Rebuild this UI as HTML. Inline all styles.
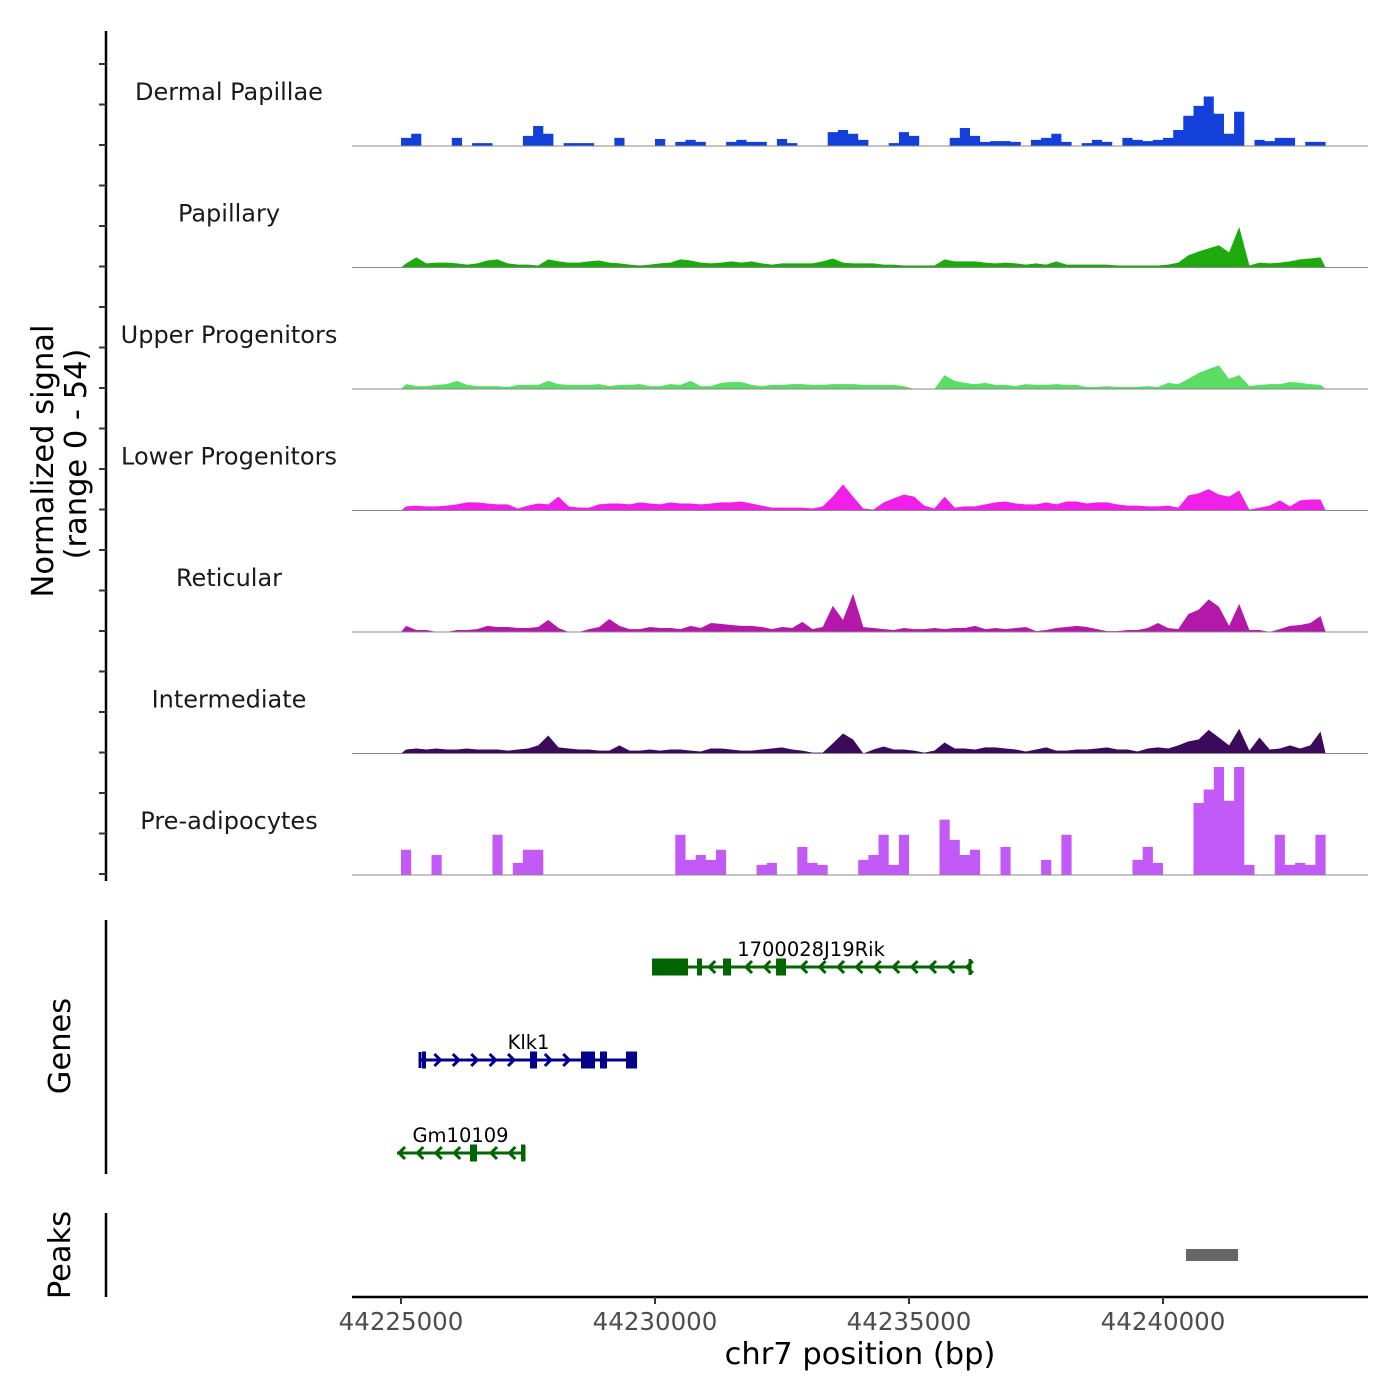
<!DOCTYPE html>
<html><head><meta charset="utf-8"><style>
html,body{margin:0;padding:0;background:#fff;}
svg{display:block;font-family:"DejaVu Sans","Liberation Sans",sans-serif;}
</style></head><body>
<svg id="chart" width="1400" height="1400" viewBox="0 0 1400 1400" xmlns="http://www.w3.org/2000/svg">
<rect width="1400" height="1400" fill="#fff"/>
<g id="tracks"></g>
<g id="genes"></g>
<g id="peaks"></g>
<g id="axes"></g>
<text transform="translate(53,461) rotate(-90)" text-anchor="middle" font-size="30.5" fill="#000">Normalized signal</text>
<text transform="translate(86,454) rotate(-90)" text-anchor="middle" font-size="30.5" fill="#000">(range 0 - 54)</text>
<text transform="translate(70,1046) rotate(-90)" text-anchor="middle" font-size="30.5" fill="#000">Genes</text>
<text transform="translate(70,1255) rotate(-90)" text-anchor="middle" font-size="30.5" fill="#000">Peaks</text>
<text x="860" y="1364" text-anchor="middle" font-size="30.5" fill="#000">chr7 position (bp)</text>
</svg>
<script>
const trackNames = ["Dermal Papillae","Papillary","Upper Progenitors","Lower Progenitors","Reticular","Intermediate","Pre-adipocytes"];
const trackColors = ["#1240d8","#1caa0c","#5bdc64","#f020e8","#b418a8","#3c0a5a","#c25af8"];
const trackStepStyle = [true,false,false,false,false,false,true];
const binStart = 44225000;
const binSize = 200;
const signalDermal = [3.6,5.4,0,0,0,3.6,0,1.3,1.3,0, 0,0,4.5,8.9,5.4,0,1.3,1.3,1.3,0, 0,3.6,0,0,0,3.1,0,1.8,2.7,1.8, 0,0,1.8,2.7,1.8,1.8,0,3.1,1.3,0, 0,0,6.2,7.1,5.4,2.7,0,0,1.3,6.2, 4.5,0,0,0,3.6,8,4.5,1.8,2.2,2.2, 1.8,0,2.7,3.6,5.4,1.8,0,1.3,2.7,1.8, 0,3.6,2.7,2.2,2.7,3.6,7.1,13.4,17.8,22, 14.3,5.4,15.2,0,2.7,2.2,3.6,3.6,0,1.8, 1.8];
const signalPapillary = [1.8,4.5,1.8,2.2,2.2,1.8,1.3,1.8,3.1,3.6, 1.8,1.3,1.3,0.9,3.6,2.7,2.2,2.2,2.7,3.1, 2.2,1.8,1.3,0.9,1.3,1.8,2.2,3.6,3.1,2.2, 1.8,2.2,2.7,2.2,2.7,1.8,1.3,1.8,1.8,1.8, 1.8,2.7,4,2.2,1.8,1.8,1.8,1.3,1.3,0.9, 0.9,0.9,0.9,3.6,2.7,2.7,2.7,2.2,1.8,2.2, 1.8,1.3,1.8,1.3,2.7,1.3,1.3,1.3,1.3,1.3, 0.9,0.9,0.9,0.9,0.9,1.3,2.2,5.4,7.1,8.5, 9.9,6.7,18,0.9,2.2,1.8,2.2,2.7,3.6,4, 4.5];
const signalUpper = [2.2,1.3,1.3,1.8,2.2,3.6,1.8,1.3,1.3,1.3, 0.9,1.8,1.8,1.8,3.6,2.2,1.8,1.8,1.8,2.2, 1.3,1.8,1.8,2.2,1.3,1.3,2.2,1.8,3.6,1.3, 1.3,2.7,3.1,3.1,1.8,1.3,1.8,1.8,2.2,2.2, 1.8,1.8,2.2,2.2,2.2,1.8,1.8,1.8,1.8,1.3, 0,0,0,6.2,3.6,2.7,2.2,2.7,1.8,1.8, 1.3,2.2,1.8,1.8,2.2,1.8,1.8,0.9,0.9,1.3, 0.9,0.9,0.9,1.3,0.9,2.7,2.2,4.5,7.1,8.9, 10.5,4.5,6.2,1.3,1.8,2.2,2.2,3.1,2.7,2.2, 1.8];
const signalLower = [1.8,2.2,1.8,1.8,2.2,2.7,3.6,3.6,3.1,2.7, 2.7,0.9,2.2,3.1,2.7,6.2,1.8,1.3,1.3,2.7, 3.1,3.1,2.7,3.6,3.1,2.7,3.6,3.1,3.1,2.7, 3.1,3.6,3.6,4,3.1,2.2,1.3,1.3,1.3,1.3, 0.9,1.8,6.2,11.6,6.2,0.9,0.4,3.6,5.4,7.1, 6.2,2.2,0.9,6.2,1.3,1.8,1.8,2.7,3.6,4, 3.1,2.7,2.7,3.6,2.7,4,4,3.1,3.6,3.6, 2.7,2.2,2.2,1.8,1.8,2.2,1.3,6.7,7.6,9.5, 7.1,6.2,8.9,0.4,1.3,2.2,4.5,1.8,4.5,4.9, 4.9];
const signalReticular = [2.7,0.9,0.9,0,0,0.9,0.9,1.3,2.7,2.2, 2.2,1.8,1.8,2.2,5.4,1.8,0,0,1.3,2.2, 5.8,2.7,1.3,1.3,2.2,1.8,1.8,1.3,2.7,1.8, 4,3.6,3.1,2.7,2.7,2.2,1.3,2.2,1.8,4.5, 1.3,2.2,11.6,5.4,17,2.2,1.8,1.3,0.9,1.8, 1.3,1.3,1.8,1.3,1.8,1.8,2.7,1.3,1.8,1.3, 1.8,2.2,0.4,0.9,1.8,2.2,2.7,2.2,1.3,0.4, 0.4,0.9,0.9,1.8,4,1.8,1.3,8,9.9,14.5, 11.2,2.7,12.5,0.9,0.9,0,1.3,2.7,3.1,4, 7.1];
const signalIntermediate = [1.8,2.2,1.8,2.2,1.8,1.8,2.2,1.8,1.8,1.8, 1.3,1.8,2.2,3.6,8,2.7,2.2,1.8,1.8,1.3, 1.3,3.6,1.3,1.3,1.8,1.3,1.8,1.8,1.3,0.9, 2.2,2.2,1.8,1.3,1.3,1.8,2.2,2.7,1.8,1.3, 0.4,0.4,4.5,8.9,6.2,0,1.8,3.1,1.8,1.8, 1.3,0.4,1.3,4.9,2.2,2.2,1.8,2.7,2.7,2.2, 1.8,0.9,1.8,2.7,1.3,1.3,1.8,1.8,2.2,2.7, 1.8,1.8,0.9,2.2,2.7,2.2,3.6,5.4,6.2,10.5, 7.1,3.6,11,1.3,7.1,1.8,2.2,3.6,2.2,3.6, 9.8];
const signalPreadipocytes = [11.2,0,0,8.9,0,0,0,0,0,17.9, 0,5.4,11.2,11.2,0,0,0,0,0,0, 0,0,0,0,0,0,0,17.9,6.7,8.9, 6.7,11.2,0,0,0,4.5,5.4,0,0,12.5, 5.4,4.5,0,0,0,6.7,8.9,17.9,4.5,17.9, 0,0,0,24.6,15.6,8.9,11.2,0,0,12.5, 0,0,0,6.7,0,17.9,0,0,0,0, 0,0,6.7,12.5,5.4,0,0,0,32,38, 48,33,48,4.5,0,0,17.9,4.5,5.4,4.5, 17.9];
const allSignals = [signalDermal,signalPapillary,signalUpper,signalLower,signalReticular,signalIntermediate,signalPreadipocytes];
const xTicks = [44225000,44230000,44235000,44240000];
const xTickLabels = ["44225000","44230000","44235000","44240000"];
const geneNames = ["1700028J19Rik","Klk1","Gm10109"];
const geneStrand = [-1,1,-1];
const geneStart = [44229941,44225374,44224921];
const geneEnd = [44236201,44229646,44227421];
const geneExons = [
  [[44229941,44230650],[44230827,44230925],[44231339,44231496],[44232382,44232579]],
  [[44225413,44225492],[44227539,44227677],[44228543,44228819],[44228917,44229055],[44229429,44229646]],
  [[44226358,44226496],[44227362,44227421]]
];
const peakStart = [44240453];
const peakEnd = [44241476];

const NS = "http://www.w3.org/2000/svg";
const X0 = 352, X1 = 1368, D0 = 44224035, D1 = 44244035;
function xs(bp){ return X0 + (bp - D0) / (D1 - D0) * (X1 - X0); }
const trackBase0 = 146, trackStep = 121.5, yMax = 54;
function ys(v, k){ return trackBase0 + k*trackStep - v / yMax * trackStep; }
function mk(tag, attrs, parent){ const e = document.createElementNS(NS, tag); for (const k in attrs) e.setAttribute(k, attrs[k]); parent.appendChild(e); return e; }

const gT = document.getElementById('tracks');
allSignals.forEach((arr, k) => {
  const base = ys(0, k);
  let d = "M" + xs(binStart).toFixed(1) + "," + base;
  arr.forEach((v, i) => {
    const xa = xs(binStart + i*binSize), xb = xs(binStart + (i+1)*binSize);
    if (trackStepStyle[k]) {
      d += " L" + xa.toFixed(1) + "," + ys(v,k).toFixed(1) + " L" + xb.toFixed(1) + "," + ys(v,k).toFixed(1);
    } else {
      d += " L" + ((xa+xb)/2).toFixed(1) + "," + ys(v,k).toFixed(1);
    }
  });
  d += " L" + xs(binStart + arr.length*binSize).toFixed(1) + "," + base + " Z";
  const p = mk('path', {d: d, fill: trackColors[k]}, gT);
  
  
  const bl = mk('line', {x1: X0, x2: X1, y1: base, y2: base, stroke: '#888', 'stroke-width': 1}, gT);
  
  
  const t = mk('text', {x: 229, y: base - 46, 'text-anchor': 'middle', 'font-size': 24, fill: '#1a1a1a'}, gT);
  t.textContent = trackNames[k];
  
  
});

const gA = document.getElementById('axes');
let a = mk('line', {x1: 106, x2: 106, y1: 31, y2: 881, stroke: '#000', 'stroke-width': 2.5}, gA);


for (let i = 0; i <= 20; i++) {
  const y = 64 + i * 40.5;
  if (y > 878) break;
  const tk = mk('line', {x1: 99, x2: 106, y1: y, y2: y, stroke: '#333', 'stroke-width': 2}, gA);
  
  
}
a = mk('line', {x1: 106, x2: 106, y1: 920, y2: 1174, stroke: '#000', 'stroke-width': 2.5}, gA);


a = mk('line', {x1: 106, x2: 106, y1: 1213, y2: 1297, stroke: '#000', 'stroke-width': 2.5}, gA);


a = mk('line', {x1: X0, x2: X1, y1: 1297, y2: 1297, stroke: '#000', 'stroke-width': 2.5}, gA);


xTicks.forEach((v, i) => {
  const x = xs(v);
  const tk = mk('line', {x1: x, x2: x, y1: 1297, y2: 1304, stroke: '#333', 'stroke-width': 2}, gA);
  
  
  const tl = mk('text', {x: x, y: 1330, 'text-anchor': 'middle', 'font-size': 24.5, fill: '#4d4d4d'}, gA);
  tl.textContent = xTickLabels[i];
  
  
});

const gG = document.getElementById('genes');
const geneY = [967, 1060, 1153];
const geneColors = ["#006400","#00008b","#006400"];
geneNames.forEach((n, g) => {
  const y = geneY[g], c = geneColors[g];
  const x1 = xs(geneStart[g]), x2 = xs(geneEnd[g]);
  const ln = mk('line', {x1: x1, x2: x2, y1: y, y2: y, stroke: c, 'stroke-width': 3}, gG);
  
  
  const exons = geneExons[g];
  function inExon(x){ return exons.some(e => x >= xs(e[0]) - 5 && x <= xs(e[1]) + 5); }
  const s = geneStrand[g];
  for (let x = x1 + 2; x <= x2 + 1; x += 18.4) {
    if (inExon(x)) continue;
    const h = 6;
    const dd = s < 0 ? `M${x+h},${y-h} L${x},${y} L${x+h},${y+h}` : `M${x-h},${y-h} L${x},${y} L${x-h},${y+h}`;
    const ch = mk('path', {d: dd, fill: 'none', stroke: c, 'stroke-width': 3}, gG);
    
    
  }
  const ex = mk('line', {x1: s < 0 ? x2 : x1, x2: s < 0 ? x2 : x1, y1: y - 8, y2: y + 8, stroke: c, 'stroke-width': 3}, gG);
  
  
  exons.forEach(e => {
    const xa = xs(e[0]), xb = xs(e[1]);
    const r = mk('rect', {x: xa, y: y - 8.5, width: Math.max(xb - xa, 4), height: 17, fill: c}, gG);
    
    
  });
  const t = mk('text', {x: (x1 + x2) / 2, y: y - 11, 'text-anchor': 'middle', 'font-size': 19.5, fill: '#000'}, gG);
  t.textContent = n;
  
  
});

const gP = document.getElementById('peaks');
peakStart.forEach((s, i) => {
  const r = mk('rect', {x: xs(s), y: 1249, width: xs(peakEnd[i]) - xs(s), height: 12, fill: '#666'}, gP);
  
  
});
</script>
</body></html>
